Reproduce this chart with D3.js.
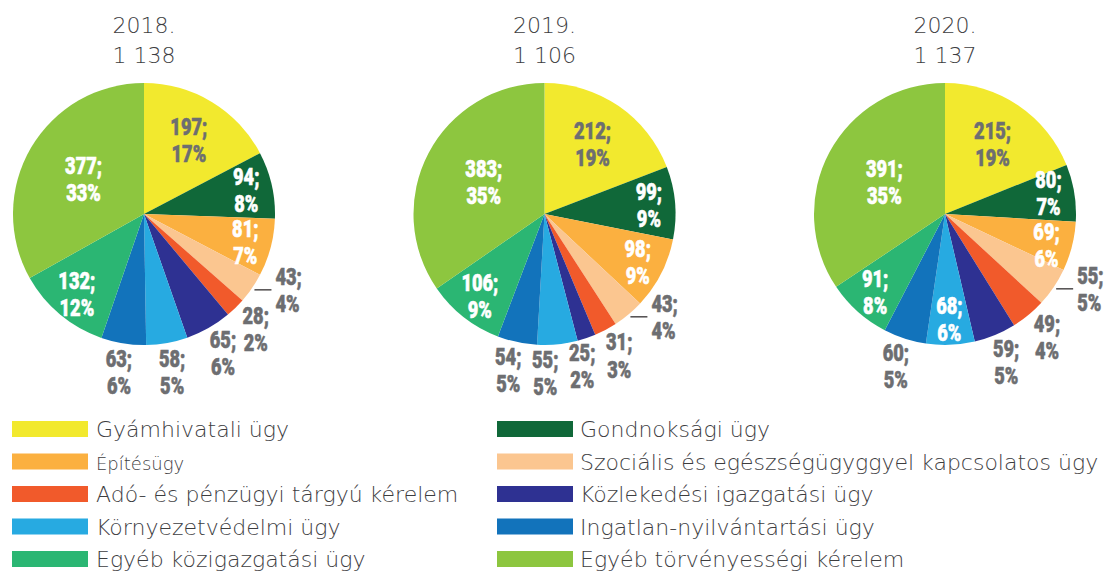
<!DOCTYPE html>
<html>
<head>
<meta charset="utf-8">
<script src="https://cdn.jsdelivr.net/npm/d3@7"></script>
<style>
  body { margin: 0; background: #fff; }
  svg { display: block; }
</style>
</head>
<body>
<div id="chart"></div>
<script>
(function() {

// categories, in slice order (clockwise from 12 o'clock)
var categories = [
  "Gyámhivatali ügy",
  "Gondnoksági ügy",
  "Építésügy",
  "Szociális és egészségügyggyel kapcsolatos ügy",
  "Adó- és pénzügyi tárgyú kérelem",
  "Közlekedési igazgatási ügy",
  "Környezetvédelmi ügy",
  "Ingatlan-nyilvántartási ügy",
  "Egyéb közigazgatási ügy",
  "Egyéb törvényességi kérelem"
];
var colors = ["#f2e92e", "#106839", "#fbb040", "#fbc690", "#f15a2b",
              "#2e3192", "#27aae1", "#1273bb", "#2bb673", "#8dc63f"];

var years = ["2018.", "2019.", "2020."];
var totals = ["1 138", "1 106", "1 137"];

var values2018 = [197, 94, 81, 43, 28, 65, 58, 63, 132, 377];
var values2019 = [212, 99, 98, 43, 31, 25, 55, 54, 106, 383];
var values2020 = [215, 80, 69, 55, 49, 59, 68, 60, 91, 391];

var pct2018 = [17, 8, 7, 4, 2, 6, 5, 6, 12, 33];
var pct2019 = [19, 9, 9, 4, 3, 2, 5, 5, 9, 35];
var pct2020 = [19, 7, 6, 5, 4, 5, 6, 5, 8, 35];

// where each value label goes
var place2018 = ["core", "in", "in", "line", "out", "out", "out", "out", "in", "core"];
var place2019 = ["core", "in", "in", "line", "out", "out", "out", "out", "in", "core"];
var place2020 = ["core", "in", "in", "line", "out", "out", "in", "out", "in", "core"];

var pies = [
  {year: years[0], total: totals[0], values: values2018, pct: pct2018, place: place2018},
  {year: years[1], total: totals[1], values: values2019, pct: pct2019, place: place2019},
  {year: years[2], total: totals[2], values: values2020, pct: pct2020, place: place2020}
];

var width = 1110,
    height = 571,
    radius = 131,
    cy = 214,
    gray = "#6d6e71",
    dark = "#3d3d3f",
    labelFont = "Roboto, 'DejaVu Sans', sans-serif",
    textFont = "'DejaVu Sans', sans-serif";

var svg = d3.select("#chart").append("svg")
    .attr("width", width)
    .attr("height", height);

var x = d3.scalePoint()
    .domain(years)
    .range([144, 945]);

var color = d3.scaleOrdinal()
    .domain(categories)
    .range(colors);

var pie = d3.pie()
    .sort(null)
    .value(function(d) { return d.value; });

var arc = d3.arc().innerRadius(0).outerRadius(radius);

function labelArc(r) { return d3.arc().innerRadius(r).outerRadius(r); }

pies.forEach(function(p) {
  var g = svg.append("g")
      .attr("transform", "translate(" + x(p.year) + "," + cy + ")");

  // titles
  [p.year, p.total].forEach(function(s, k) {
    g.append("text")
        .attr("text-anchor", "middle")
        .attr("y", (k ? 63 : 33) - cy)
        .attr("fill", dark)
        .style("font-family", textFont)
        .style("font-weight", 200)
        .style("font-size", "22px")
        .text(s);
  });

  var rows = p.values.map(function(v, i) {
    return {cat: categories[i], value: v, pct: p.pct[i], place: p.place[i]};
  });
  var arcs = pie(rows);

  g.selectAll("path.slice")
    .data(arcs)
    .enter().append("path")
      .attr("class", "slice")
      .attr("fill", function(d) { return color(d.data.cat); })
      .attr("d", arc);

  // label anchors
  var labels = arcs.map(function(d, i) {
    var mode = d.data.place, l = {d: d, anchor: "middle", fill: "#fff"};
    var share = (d.endAngle - d.startAngle) / (2 * Math.PI);
    if (mode == "core") l.pos = labelArc(radius * (0.8 - 0.8 * share)).centroid(d);
    else if (mode == "in") l.pos = labelArc(radius * 0.8).centroid(d);
    else if (mode == "out") { l.pos = labelArc(radius + 29).centroid(d); l.fill = gray; }
    else {
      l.edge = labelArc(radius + 3).centroid(d);
      l.pos = [l.edge[0] + 21, l.edge[1]];
      l.anchor = "start";
      l.fill = gray;
    }
    if (i == 0) l.fill = gray; // yellow slice gets dark text
    return l;
  });

  // keep outside labels on the bottom from running into each other
  var outs = labels.filter(function(l) { return l.d.data.place == "out"; })
      .sort(function(a, b) { return b.pos[0] - a.pos[0]; });
  for (var k = 1; k < outs.length; k++) {
    var prev = outs[k - 1], cur = outs[k];
    if (Math.abs(prev.pos[1] - cur.pos[1]) < 20 && prev.pos[0] - cur.pos[0] < 37)
      cur.pos = [prev.pos[0] - 37, cur.pos[1]];
  }

  // stacked inside labels need a bit of room vertically
  var ins = labels.filter(function(l) { return l.d.data.place == "in"; });
  for (var a = 0; a < ins.length; a++) {
    for (var b = a + 1; b < ins.length; b++) {
      var la = ins[a], lb = ins[b];
      if (Math.abs(la.pos[0] - lb.pos[0]) > 40) continue;
      var top = la.pos[1] < lb.pos[1] ? la : lb, bot = top === la ? lb : la;
      var gap = bot.pos[1] - top.pos[1];
      if (gap < 52) {
        top.pos = [top.pos[0], top.pos[1] - (52 - gap) / 2];
        bot.pos = [bot.pos[0], bot.pos[1] + (52 - gap) / 2];
      }
    }
  }

  labels.forEach(function(l) {
    if (l.edge) {
      g.append("line")
          .attr("x1", l.edge[0]).attr("x2", l.edge[0] + 17)
          .attr("y1", l.edge[1]).attr("y2", l.edge[1])
          .attr("stroke", "#231f20")
          .attr("stroke-width", 1.2);
    }
    var t = g.append("text")
        .attr("transform", "translate(" + l.pos[0] + "," + l.pos[1] + ") scale(0.76,1)")
        .attr("text-anchor", l.anchor)
        .attr("fill", l.fill)
        .attr("stroke", l.fill)
        .attr("stroke-width", 0.6)
        .style("font-family", labelFont)
        .style("font-weight", 900)
        .style("font-size", "24px");
    t.append("tspan").attr("x", 0).attr("y", -5).text(l.d.data.value + ";");
    t.append("tspan").attr("x", 0).attr("y", 22).text(l.d.data.pct + "%");
  });
});

// legend: two columns, row by row
var legend = svg.append("g").selectAll("g")
  .data(categories)
  .enter().append("g")
    .attr("transform", function(d, i) {
      return "translate(" + (i % 2 ? 497 : 12) + "," + (421 + Math.floor(i / 2) * 32.5) + ")";
    });

legend.append("rect")
    .attr("width", 76)
    .attr("height", 16)
    .attr("fill", function(d) { return color(d); });

legend.append("text")
    .attr("x", function(d, i) { return i % 2 ? 83 : 84; })
    .attr("y", 16)
    .attr("fill", dark)
    .style("font-family", textFont)
    .style("font-weight", 200)
    .style("font-size", function(d) { return d == "Építésügy" ? "18px" : "22px"; })
    .text(function(d) { return d; });

}());
</script>
</body>
</html>
